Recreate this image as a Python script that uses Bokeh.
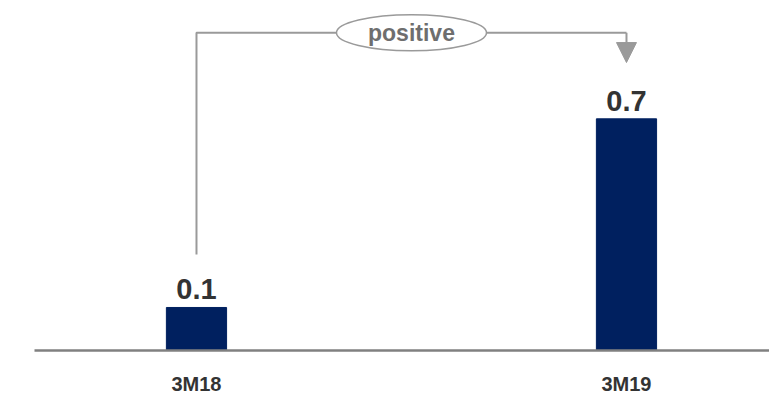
from bokeh.plotting import figure
from bokeh.models import ColumnDataSource, Range1d, FixedTicker, Arrow, NormalHead
from bokeh.core.properties import value
from bokeh.embed import file_html
from bokeh.resources import INLINE

# Chart data
categories = ["3M18", "3M19"]
values = [0.13, 0.70]
change_label = "positive"

FONT = "Liberation Sans"
BAR_COLOR = "#00205f"
TEXT_COLOR = "#333333"
LINK_COLOR = "#9a9a9a"

xs = list(range(len(categories)))
labels = [f"{v:.1f}" for v in values]
src = ColumnDataSource(dict(x=xs, top=values, label=labels))

p = figure(
    width=769, height=397,
    x_range=Range1d(-0.3767, 1.3326),
    y_range=Range1d(0, 1.0575),
    output_backend="svg", toolbar_location=None,
    y_axis_location=None,
    min_border_left=34, min_border_right=0, min_border_top=0, min_border_bottom=42,
)
p.outline_line_color = None
p.grid.visible = False
p.background_fill_color = "white"
p.border_fill_color = "white"

# Bars
p.vbar(x="x", top="top", width=0.14, bottom=0, source=src,
       fill_color=BAR_COLOR, line_color=BAR_COLOR)

# Value labels above bars
p.text(x="x", y="top", text="label", source=src,
       text_font=value(FONT), text_font_style="bold", text_font_size="29px",
       text_color=TEXT_COLOR, text_align="center", text_baseline="bottom",
       y_offset=-8)

# Category axis
ax = p.xaxis[0]
ax.ticker = FixedTicker(ticks=xs)
ax.major_label_overrides = {i: c for i, c in zip(xs, categories)}
ax.major_tick_line_color = None
ax.minor_tick_line_color = None
ax.axis_line_color = "#808080"
ax.axis_line_width = 2.5
ax.major_label_text_font = FONT
ax.major_label_text_font_style = "bold"
ax.major_label_text_font_size = "20px"
ax.major_label_text_color = TEXT_COLOR
ax.major_label_standoff = 16

# Bracket linking the two bars
top_y = max(values) + 0.26
start_y = values[0] + 0.16
tip_y = values[1] + 0.17
p.line(x=[xs[0], xs[0], xs[1]], y=[start_y, top_y, top_y],
       line_color=LINK_COLOR, line_width=2)
p.add_layout(Arrow(
    x_start=xs[1], y_start=top_y, x_end=xs[1], y_end=tip_y,
    line_color=LINK_COLOR, line_width=2,
    end=NormalHead(size=20, fill_color=LINK_COLOR, line_color=LINK_COLOR),
))

mid_x = (xs[0] + xs[1]) / 2
p.ellipse(x=[mid_x], y=[top_y], width=150, height=36,
          width_units="screen", height_units="screen",
          fill_color="white", line_color=LINK_COLOR, line_width=1.5)
p.text(x=[mid_x], y=[top_y], text=[change_label],
       text_font=value(FONT), text_font_style="bold", text_font_size="23px",
       text_color="#6e6e6e", text_align="center", text_baseline="middle")

open("out.html", "w").write(file_html(p, INLINE))
